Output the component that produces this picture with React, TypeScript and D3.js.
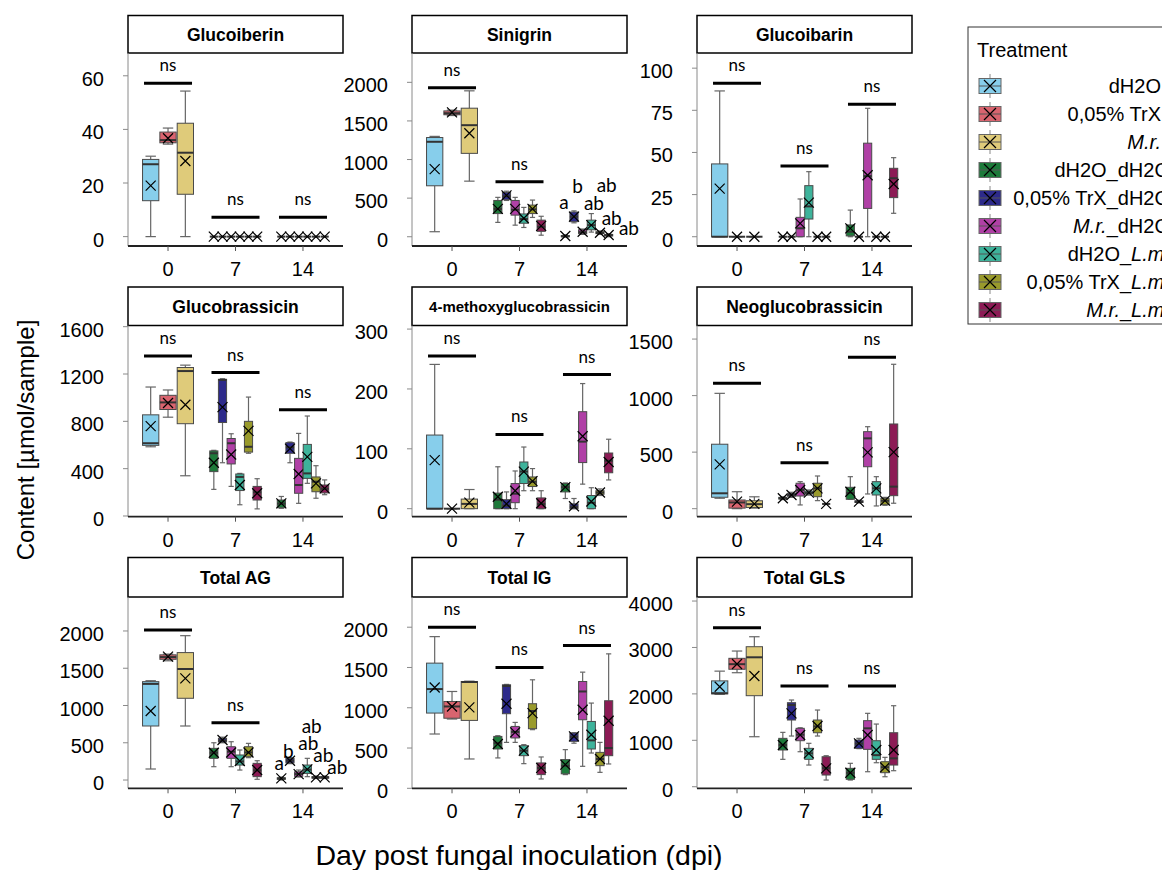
import React from "react";
import * as d3 from "d3";

// ---------- data ----------
const treatments = [
  "dH2O", "0,05% TrX", "M.r.",
  "dH2O_dH2O", "0,05% TrX_dH2O", "M.r._dH2O",
  "dH2O_L.m.", "0,05% TrX_L.m.", "M.r._L.m.",
];
const treatmentColors = [
  "#87ceeb", "#d9646f", "#dfcb7a",
  "#1d7a3a", "#2d2a8a", "#b040a6",
  "#3eb39b", "#999a2c", "#8c1b55",
];
const days = ["0", "7", "14"];
const dayGroups = [[0, 1, 2], [3, 4, 5, 6, 7, 8], [3, 4, 5, 6, 7, 8]];

// each row: [whiskerLow, q1, median, q3, whiskerHigh, mean]; order day0(3), day7(6), day14(6)
const glucoiberin = [
  [0, 13.4, 27, 28.8, 30, 19], [34.5, 35, 36, 39, 40.5, 36.7], [0, 15.8, 31.3, 42.3, 54.3, 28.2],
  [0, 0, 0, 0, 0, 0], [0, 0, 0, 0, 0, 0], [0, 0, 0, 0, 0, 0], [0, 0, 0, 0, 0, 0], [0, 0, 0, 0, 0, 0], [0, 0, 0, 0, 0, 0],
  [0, 0, 0, 0, 0, 0], [0, 0, 0, 0, 0, 0], [0, 0, 0, 0, 0, 0], [0, 0, 0, 0, 0, 0], [0, 0, 0, 0, 0, 0], [0, 0, 0, 0, 0, 0],
];
const sinigrin = [
  [65, 660, 1230, 1285, 1300, 875], [1570, 1580, 1600, 1630, 1640, 1610], [720, 1080, 1445, 1665, 1890, 1340],
  [186, 300, 360, 470, 510, 360], [470, 480, 525, 575, 590, 535], [150, 280, 350, 470, 510, 360],
  [120, 175, 230, 295, 380, 240], [250, 300, 355, 410, 475, 360], [20, 70, 130, 215, 265, 140],
  [0, 0, 5, 15, 25, 10], [180, 195, 260, 320, 335, 260], [30, 40, 60, 90, 100, 65],
  [60, 90, 150, 215, 300, 150], [30, 40, 50, 65, 75, 52], [0, 10, 20, 30, 40, 22],
];
const glucoibarin = [
  [0, 0, 0, 43.2, 86.5, 28.5], [0, 0, 0, 0, 0, 0], [0, 0, 0, 0, 0, 0],
  [0, 0, 0, 0, 0, 0], [0, 0, 0, 0, 0, 0], [0, 0, 5, 11.5, 22.4, 7.9],
  [0, 10.5, 18, 30.3, 38.6, 20.2], [0, 0, 0, 0, 0, 0], [0, 0, 0, 0, 0, 0],
  [0, 0.5, 3, 7, 15.8, 5], [0, 0, 0, 0, 0, 0], [0, 16.8, 36, 55.5, 76.2, 36.5],
  [0, 0, 0, 0, 0, 0], [0, 0, 0, 0, 0, 0], [13.9, 23.2, 34.7, 40.6, 46.9, 31.3],
];
const glucobrassicin = [
  [585, 597, 615, 855, 1090, 760], [835, 900, 960, 1020, 1065, 955], [340, 780, 1225, 1255, 1275, 940],
  [225, 375, 530, 550, 555, 450], [450, 790, 1150, 1155, 1160, 920], [250, 440, 615, 655, 695, 520],
  [95, 215, 330, 355, 360, 262], [530, 540, 585, 800, 1005, 720], [60, 135, 200, 250, 315, 192],
  [65, 70, 105, 135, 165, 107], [450, 530, 580, 620, 625, 570], [107, 192, 262, 487, 698, 355],
  [276, 318, 360, 605, 845, 500], [150, 205, 290, 330, 425, 276], [180, 195, 230, 262, 305, 234],
];
const methoxyglucobrassicin = [
  [0, 0, 0, 123, 241, 81], [0, 0, 0, 0, 0, 0], [0, 0, 8, 16, 32, 10],
  [0, 0, 15, 26, 70, 20], [0, 0, 5, 15, 28, 8], [0, 10, 25, 42, 63, 30],
  [30, 42, 62, 78, 103, 62], [30, 37, 45, 53, 67, 46], [0, 0, 8, 18, 30, 9],
  [17, 28, 36, 42, 43, 36], [0, 0, 3, 8, 17, 4], [41, 77, 112, 162, 209, 121],
  [0, 0, 10, 22, 35, 12], [22, 24, 27, 30, 33, 27], [48, 60, 80, 93, 116, 78],
];
const neoglucobrassicin = [
  [92, 101, 136, 570, 1020, 392], [0, 5, 55, 77, 150, 62], [5, 10, 40, 70, 105, 42],
  [80, 85, 92, 100, 105, 92], [100, 110, 120, 135, 145, 121], [33, 112, 165, 225, 239, 165],
  [120, 130, 140, 155, 165, 142], [71, 106, 180, 225, 289, 180], [42, 42, 42, 42, 42, 42],
  [83, 83, 140, 189, 283, 150], [50, 55, 60, 70, 75, 62], [130, 371, 622, 681, 725, 498],
  [24, 121, 180, 239, 283, 180], [30, 35, 70, 92, 100, 71], [48, 115, 195, 749, 1277, 500],
];
const totalAG = [
  [148, 725, 1290, 1320, 1333, 926], [1600, 1620, 1650, 1680, 1690, 1655], [725, 1097, 1490, 1710, 1937, 1365],
  [179, 291, 366, 425, 500, 366], [500, 510, 530, 560, 575, 537], [179, 291, 380, 447, 514, 370],
  [134, 201, 250, 336, 403, 255], [300, 313, 370, 447, 492, 370], [10, 45, 130, 224, 259, 134],
  [0, 10, 20, 30, 40, 22], [220, 230, 260, 290, 300, 259], [40, 50, 80, 110, 134, 80],
  [45, 89, 140, 201, 291, 143], [20, 25, 35, 45, 55, 36], [20, 25, 35, 45, 55, 36],
];
const totalIG = [
  [674, 934, 1232, 1554, 1883, 1252], [860, 870, 1016, 1078, 1202, 1016], [364, 843, 1320, 1326, 1330, 1004],
  [377, 488, 560, 644, 653, 550], [570, 926, 1270, 1285, 1290, 1050], [570, 625, 700, 768, 818, 694],
  [306, 405, 467, 529, 542, 467], [728, 740, 960, 1050, 1347, 934], [116, 170, 253, 315, 389, 253],
  [170, 180, 280, 356, 480, 294], [560, 583, 640, 686, 690, 644], [273, 851, 1202, 1326, 1442, 975],
  [438, 488, 595, 830, 1058, 665], [198, 281, 364, 446, 570, 364], [302, 405, 500, 1087, 1669, 839],
];
const totalGLS = [
  [1990, 2000, 2015, 2280, 2490, 2154], [2456, 2530, 2640, 2766, 2923, 2643], [1077, 1961, 2788, 3016, 3231, 2385],
  [590, 791, 900, 1042, 1171, 898], [1092, 1437, 1760, 1810, 1868, 1581], [754, 991, 1120, 1258, 1270, 1114],
  [467, 590, 720, 827, 935, 719], [1092, 1163, 1300, 1437, 1652, 1308], [144, 252, 400, 646, 668, 396],
  [144, 160, 300, 396, 504, 302], [820, 827, 930, 1006, 1042, 935], [323, 805, 1258, 1423, 1581, 1114],
  [517, 590, 680, 991, 1350, 791], [215, 302, 420, 539, 633, 418], [345, 467, 611, 1163, 1745, 791],
];

const panelTitles = [
  "Glucoiberin", "Sinigrin", "Glucoibarin",
  "Glucobrassicin", "4-methoxyglucobrassicin", "Neoglucobrassicin",
  "Total AG", "Total IG", "Total GLS",
];
const panelTicks = [
  [0, 20, 40, 60], [0, 500, 1000, 1500, 2000], [0, 25, 50, 75, 100],
  [0, 400, 800, 1200, 1600], [0, 100, 200, 300], [0, 500, 1000, 1500],
  [0, 500, 1000, 1500, 2000], [0, 500, 1000, 1500, 2000], [0, 1000, 2000, 3000, 4000],
];
const panelDomains = [
  [-3.5, 68.5], [-120, 2380], [-5.5, 109],
  [-6, 1610], [-13.4, 306], [-71, 1620],
  [-111, 2456], [0, 2375], [-34, 4087],
];
// height of the "ns" bar per day (null = letters instead)
const panelNs = [
  [57.2, 7.2, 7.2], [1930, 712, null], [91.1, 42, 78.6],
  [1353, 1212, 898], [255, 124, 224], [1109, 407, 1339],
  [2013, 769, null], [2000, 1500, 1772], [3425, 2169, 2169],
];
// letters for day 14: [text, x shift, y value]
const sinigrinLetters = [["a", -1.3, 440], ["b", 3.7, 648], ["ab", 11.3, 433], ["ab", 15.4, 670], ["ab", 11.7, 238], ["ab", 20.3, 109]];
const totalAGLetters = [["a", -2, 224], ["b", -1.7, 389], ["ab", 9.6, 493], ["ab", 4.4, 716], ["ab", 7.3, 326], ["ab", 12.6, 170]];

const panelData = [glucoiberin, sinigrin, glucoibarin, glucobrassicin, methoxyglucobrassicin, neoglucobrassicin, totalAG, totalIG, totalGLS];
const panelLetters = [null, sinigrinLetters, null, null, null, null, totalAGLetters, null, null];

// ---------- layout ----------
const COL_X = [128, 412, 697];
const PANEL_W = 215;
const ROWS = [
  { top: 15.5, split: 53, bottom: 246 },
  { top: 287, split: 325.5, bottom: 516.7 },
  { top: 557.5, split: 597, bottom: 788.3 },
];
const SANS = "'Liberation Sans', Arial, sans-serif";
const LABEL = "Lato, 'Open Sans', sans-serif";

function Panel({ pi }: { pi: number }) {
  const col = pi % 3, row = Math.floor(pi / 3);
  const x0 = COL_X[col], x1 = x0 + PANEL_W;
  const r = ROWS[row];
  const y = d3.scaleLinear().domain(panelDomains[pi]).range([r.bottom, r.split]);
  const x = d3.scalePoint().domain(days).range([x0, x1]).padding(0.593);
  const data = panelData[pi];
  const boxes: any[] = [];
  let k = 0;
  days.forEach((day, di) => {
    const groups = dayGroups[di];
    const cx0 = x(day) as number;
    const band = d3.scaleBand().domain(groups.map(String)).range([cx0 - 26, cx0 + 26]);
    groups.forEach((g, gi) => {
      const s = data[k++];
      const bw = band.bandwidth();
      boxes.push({ g, s, di, gi, cx: (band(String(g)) as number) + bw / 2, w: bw * 0.94 });
    });
  });
  const title = panelTitles[pi];
  const titleSize = title.length > 20 ? 15 : 17.5;
  const letters = panelLetters[pi];
  return (
    <g>
      {/* title strip */}
      <rect x={x0} y={r.top} width={PANEL_W} height={r.split - r.top} fill="#fff" stroke="#000" strokeWidth={1.5} />
      <text x={(x0 + x1) / 2} y={(r.top + r.split) / 2} dy="0.36em" textAnchor="middle" fontFamily={SANS} fontWeight="bold" fontSize={titleSize}>{title}</text>
      {/* y axis */}
      <line x1={x0} x2={x0} y1={r.split} y2={r.bottom} stroke="#8a8a8a" strokeWidth={1} />
      {panelTicks[pi].map((t) => (
        <g key={t}>
          <line x1={x0 - 5} x2={x0} y1={y(t)} y2={y(t)} stroke="#8a8a8a" strokeWidth={1} />
          <text x={x0 - 24} y={y(t) + 3} dy="0.35em" textAnchor="end" fontFamily={SANS} fontSize={20} fill="#000">{t}</text>
        </g>
      ))}
      {/* x axis */}
      <line x1={x0} x2={x1} y1={r.bottom} y2={r.bottom} stroke="#222" strokeWidth={1.8} />
      {days.map((d) => (
        <g key={d}>
          <line x1={x(d)} x2={x(d)} y1={r.bottom} y2={r.bottom + 5} stroke="#555" strokeWidth={1} />
          <text x={x(d)} y={r.bottom + 30} textAnchor="middle" fontFamily={SANS} fontSize={20}>{d}</text>
        </g>
      ))}
      {/* boxes */}
      {boxes.map((b, i) => {
        const [lo, q1, med, q3, hi, mean] = b.s;
        const col = treatmentColors[b.g];
        const cap = b.w * 0.32;
        const m = 5;
        return (
          <g key={i}>
            <line x1={b.cx} x2={b.cx} y1={y(hi)} y2={y(q3)} stroke="#666" strokeWidth={1.2} />
            <line x1={b.cx} x2={b.cx} y1={y(q1)} y2={y(lo)} stroke="#666" strokeWidth={1.2} />
            <line x1={b.cx - cap} x2={b.cx + cap} y1={y(hi)} y2={y(hi)} stroke="#666" strokeWidth={1.2} />
            <line x1={b.cx - cap} x2={b.cx + cap} y1={y(lo)} y2={y(lo)} stroke="#666" strokeWidth={1.2} />
            <rect x={b.cx - b.w / 2} y={y(q3)} width={b.w} height={Math.max(0, y(q1) - y(q3))} fill={col} stroke="#4a4a4a" strokeWidth={1} />
            <line x1={b.cx - b.w / 2} x2={b.cx + b.w / 2} y1={y(med)} y2={y(med)} stroke="#333" strokeWidth={2} />
            <path d={`M${b.cx - m},${y(mean) - m}L${b.cx + m},${y(mean) + m}M${b.cx - m},${y(mean) + m}L${b.cx + m},${y(mean) - m}`} stroke="#000" strokeWidth={1.2} fill="none" />
          </g>
        );
      })}
      {/* ns bars */}
      {panelNs[pi].map((v, di) => v == null ? null : (
        <g key={di}>
          <line x1={(x(days[di]) as number) - 24} x2={(x(days[di]) as number) + 24} y1={y(v)} y2={y(v)} stroke="#000" strokeWidth={3} />
          <text x={x(days[di])} y={y(v) - 12} textAnchor="middle" fontFamily={LABEL} fontSize={17}>ns</text>
        </g>
      ))}
      {letters && boxes.filter((b) => b.di === 2).map((b, i) => (
        <text key={i} x={b.cx + (letters[i][1] as number)} y={y(letters[i][2] as number)} dy="0.35em" textAnchor="middle" fontFamily={LABEL} fontSize={19}>{letters[i][0]}</text>
      ))}
    </g>
  );
}

function LegendLabel({ label, x, y }: { label: string; x: number; y: number }) {
  const parts = label.split(/(M\.r\.|L\.m\.)/).filter((s) => s.length);
  return (
    <text x={x} y={y} dy="0.36em" textAnchor="end" fontFamily={SANS} fontSize={20}>
      {parts.map((p, i) => (
        <tspan key={i} fontStyle={p === "M.r." || p === "L.m." ? "italic" : "normal"}>{p}</tspan>
      ))}
    </text>
  );
}

export default function App() {
  const legendY = d3.scaleLinear().domain([0, 1]).range([86, 114]);
  return (
    <svg width={1162} height={870} style={{ position: "absolute", left: 0, top: 0, background: "#fff" }}>
      {panelTitles.map((_, i) => <Panel key={i} pi={i} />)}
      {/* axis titles */}
      <text x={519} y={865} textAnchor="middle" fontFamily={SANS} fontSize={28.5}>Day post fungal inoculation (dpi)</text>
      <text transform="translate(34,440) rotate(-90)" textAnchor="middle" fontFamily={SANS} fontSize={24}>Content [µmol/sample]</text>
      {/* legend */}
      <rect x={968} y={27} width={260} height={297} fill="#fff" stroke="#333" strokeWidth={1} />
      <text x={977} y={57} fontFamily={SANS} fontSize={20}>Treatment</text>
      {treatments.map((t, i) => {
        const cy = legendY(i);
        const cx = 990;
        return (
          <g key={t}>
            <line x1={cx} x2={cx} y1={cy - 12} y2={cy + 12} stroke="#888" strokeWidth={1} />
            <rect x={cx - 11} y={cy - 7.5} width={22} height={15} fill={treatmentColors[i]} stroke="#666" strokeWidth={1} />
            <line x1={cx - 11} x2={cx + 11} y1={cy} y2={cy} stroke="#555" strokeWidth={1} />
            <path d={`M${cx - 6},${cy - 6}L${cx + 6},${cy + 6}M${cx - 6},${cy + 6}L${cx + 6},${cy - 6}`} stroke="#000" strokeWidth={1.2} />
            <LegendLabel label={t} x={t.includes("_") ? 1170 : 1161} y={cy} />
          </g>
        );
      })}
    </svg>
  );
}
